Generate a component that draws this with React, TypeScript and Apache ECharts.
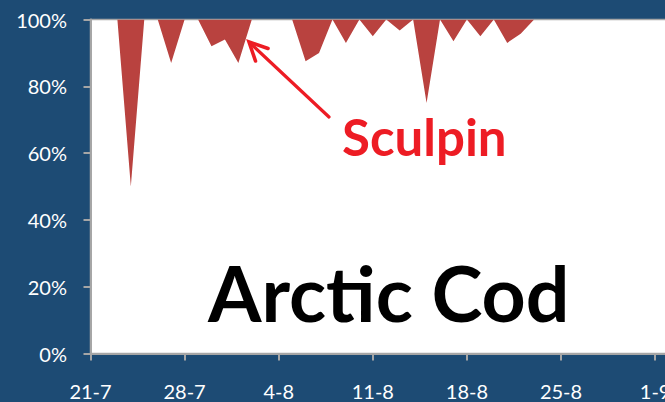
import React, { useEffect, useRef } from "react";
import * as echarts from "echarts";

// Daily share of the catch (percent), starting 21 July
const startDay = { year: 2013, month: 7, day: 21 };
const dayCount = 45;

const arcticCod = [
  100, 100, 100, 50, 100, 100, 87, 100, 100, 92, 94, 87, 100, 100, 100, 100,
  87.5, 90, 100, 93, 100, 95, 100, 96.7, 100, 75, 100, 93.5, 100, 95, 100, 93,
  95.7, 100, 100, 100, 100, 100, 100, 100, 100, 100, 100, 100, 100,
];

const sculpin = [
  0, 0, 0, 50, 0, 0, 13, 0, 0, 8, 6, 13, 0, 0, 0, 0, 12.5, 10, 0, 7, 0, 5, 0,
  3.3, 0, 25, 0, 6.5, 0, 5, 0, 7, 4.3, 0, 0, 0, 0, 0, 0, 0, 0, 0, 0, 0, 0,
];

const yTicks = [0, 20, 40, 60, 80, 100];

function buildDates(): string[] {
  const out: string[] = [];
  const base = Date.UTC(startDay.year, startDay.month - 1, startDay.day);
  for (let i = 0; i < dayCount; i++) {
    const d = new Date(base + i * 86400000);
    out.push(`${d.getUTCDate()}-${d.getUTCMonth() + 1}`);
  }
  return out;
}

const dates = buildDates();

const BG = "#1d4b74";
const AXIS_GREY = "#a6a6a6";
const FONT = "Lato, 'Open Sans', sans-serif";

export default function App() {
  const ref = useRef<HTMLDivElement>(null);

  useEffect(() => {
    if (!ref.current) return;
    const chart = echarts.init(ref.current, null, { renderer: "svg" });
    chart.setOption({
      animation: false,
      backgroundColor: BG,
      grid: {
        left: 90.5,
        top: 19.5,
        right: 18,
        bottom: 48.5,
        show: true,
        backgroundColor: "#ffffff",
        borderColor: AXIS_GREY,
        borderWidth: 1.5,
      },
      xAxis: {
        type: "category",
        data: dates,
        boundaryGap: false,
        axisLine: { show: true, lineStyle: { color: AXIS_GREY, width: 2 } },
        axisTick: {
          show: true,
          interval: 6,
          length: 7,
          inside: false,
          lineStyle: { color: AXIS_GREY, width: 2 },
        },
        axisLabel: {
          interval: 6,
          color: "#ffffff",
          fontFamily: FONT,
          fontSize: 20,
          margin: 27,
        },
        splitLine: { show: false },
      },
      yAxis: {
        type: "value",
        min: yTicks[0],
        max: yTicks[yTicks.length - 1],
        interval: 20,
        axisLine: { show: true, lineStyle: { color: AXIS_GREY, width: 2 } },
        axisTick: {
          show: true,
          length: 7,
          inside: false,
          lineStyle: { color: AXIS_GREY, width: 2 },
        },
        axisLabel: {
          formatter: "{value}%",
          color: "#ffffff",
          fontFamily: FONT,
          fontSize: 20,
          margin: 23.5,
        },
        splitLine: { show: false },
      },
      series: [
        {
          name: "Arctic Cod",
          type: "line",
          stack: "share",
          data: arcticCod,
          symbol: "none",
          lineStyle: { width: 0 },
          areaStyle: { color: "#ffffff", opacity: 0 },
          z: 2,
        },
        {
          name: "Sculpin",
          type: "line",
          stack: "share",
          data: sculpin,
          symbol: "none",
          lineStyle: { width: 0 },
          areaStyle: { color: "#b9423f", opacity: 1 },
          z: 3,
        },
      ],
      graphic: [
        {
          type: "text",
          x: 208,
          y: 292,
          style: {
            text: "Arctic Cod",
            fill: "#000000",
            font: `bold 77px ${FONT}`,
            verticalAlign: "middle",
          },
          z: 10,
          silent: true,
        },
        {
          type: "text",
          x: 342,
          y: 136,
          style: {
            text: "Sculpin",
            fill: "#ed1c24",
            font: `bold 51px ${FONT}`,
            verticalAlign: "middle",
          },
          z: 10,
          silent: true,
        },
        {
          type: "line",
          shape: { x1: 329, y1: 117, x2: 250, y2: 43 },
          style: { stroke: "#ed1c24", lineWidth: 3.2, lineCap: "round" },
          z: 10,
          silent: true,
        },
        {
          type: "polyline",
          shape: {
            points: [
              [268, 48.5],
              [249, 42],
              [255.5, 61],
            ],
          },
          style: {
            stroke: "#ed1c24",
            lineWidth: 3.6,
            fill: "none",
            lineCap: "round",
            lineJoin: "miter",
          },
          z: 10,
          silent: true,
        },
      ],
    });
    return () => chart.dispose();
  }, []);

  return (
    <div
      style={{
        position: "fixed",
        left: 0,
        top: 0,
        width: 665,
        height: 402,
        overflow: "hidden",
        background: BG,
      }}
    >
      <div ref={ref} style={{ width: 700, height: 402 }} />
    </div>
  );
}
